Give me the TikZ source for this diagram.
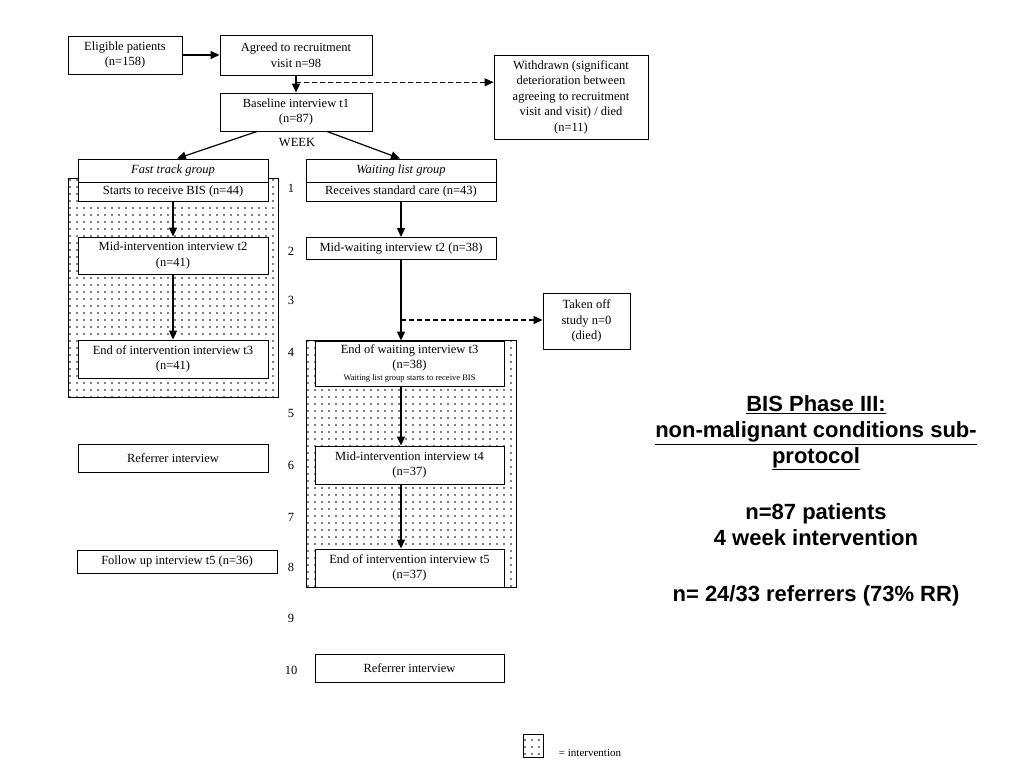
\documentclass[tikz,border=0pt]{standalone}
\usepackage{fontspec}
\setmainfont{Liberation Serif}
\newfontfamily\titlefont{Liberation Sans}
\usepackage{tikz}
\usetikzlibrary{arrows.meta}
\usetikzlibrary{patterns.meta}
\usetikzlibrary{calc}
\tikzstyle{etape}=[rectangle,draw,fill=white,align=center,inner sep=0pt,
        line width=0.9pt,font=\fontsize{12.5}{15.5}\selectfont]
\tikzstyle{zone}=[rectangle,draw,line width=0.9pt,
        pattern={Dots[distance=7pt,radius=0.9pt]},pattern color=black]
\tikzstyle{semaine}=[font=\fontsize{12.5}{15}\selectfont]
\tikzstyle{suite}=[-{Triangle[length=9pt,width=8pt]},line width=1.2pt]
\tikzstyle{retrait}=[-{Triangle[length=9pt,width=8pt]},line width=1.2pt,dash pattern=on 5pt off 3pt]

\begin{document}
\begin{tikzpicture}[x=1pt,y=-1pt]
\useasboundingbox (0,0) rectangle (1024,768);
%zones d'intervention
\node[zone,minimum width=210,minimum height=219] (zf) at (173,287.5) {};
\node[zone,minimum width=210,minimum height=247] (zw) at (411,463.5) {};
%boites
\node[etape,minimum width=114,minimum height=38] (elig) at (125,55) {Eligible patients\\(n=158)};
\node[etape,minimum width=152,minimum height=40] (agreed) at (296,55) {Agreed to recruitment\\visit n=98};
\node[etape,minimum width=152,minimum height=38] (base) at (296,112) {Baseline interview t1\\(n=87)};
\node[etape,minimum width=154,minimum height=84] (wd) at (571,97) {Withdrawn (significant\\deterioration between\\agreeing to recruitment\\visit and visit) / died\\(n=11)};
\node[semaine] (week) at (297,143) {WEEK};
\node[etape,minimum width=190,minimum height=23] (fast) at (173,170.5) {\itshape Fast track group};
\node[etape,minimum width=190,minimum height=19] (fbis) at (173,191.5) {Starts to receive BIS (n=44)};
\node[etape,minimum width=190,minimum height=23] (wait) at (401,170.5) {\itshape Waiting list group};
\node[etape,minimum width=190,minimum height=19] (wstd) at (401,191.5) {Receives standard care (n=43)};
\node[etape,minimum width=190,minimum height=37] (fmid) at (173,255.5) {Mid-intervention interview t2\\(n=41)};
\node[etape,minimum width=190,minimum height=22] (wmid) at (401,248.5) {Mid-waiting interview t2 (n=38)};
\node[etape,minimum width=190,minimum height=38] (fend) at (173,359) {End of intervention interview t3\\(n=41)};
\node[etape,minimum width=87,minimum height=56] (toff) at (586.5,321) {Taken off\\study n=0\\(died)};
\node[etape,minimum width=189,minimum height=45] (wend) at (409.5,363.5) {End of waiting interview t3\\(n=38)\\[-4pt]{\fontsize{8.5}{9}\selectfont Waiting list group starts to receive BIS}};
\node[etape,minimum width=189,minimum height=38] (wmidb) at (409.5,465) {Mid-intervention interview t4\\(n=37)};
\node[etape,minimum width=189,minimum height=38] (wendb) at (409.5,568) {End of intervention interview t5\\(n=37)};
\node[etape,minimum width=190,minimum height=28] (fref) at (173,458) {Referrer interview};
\node[etape,minimum width=200,minimum height=23] (ffol) at (177,561.5) {Follow up interview t5 (n=36)};
\node[etape,minimum width=189,minimum height=28] (wref) at (409.5,668) {Referrer interview};
%semaines
\foreach \n/\y in {1/188,2/251,3/300,4/352,5/413,6/465,7/517,8/567,9/618,10/670}
  \node[semaine] (s\n) at (291,\y) {\n};
%titre
\node[align=center,font=\titlefont\bfseries\fontsize{22}{26}\selectfont] (titre) at (816,501)
  {\underline{BIS Phase III:}\\\underline{non-malignant conditions sub-}\\\underline{protocol}\\[30pt]
   n=87 patients\\4 week intervention\\[30pt]n= 24/33 referrers (73\% RR)};
%legende
\node[zone,minimum width=20,minimum height=23] (leg) at (533,745.5) {};
\node[font=\fontsize{11}{13}\selectfont] (legtxt) at (590,753) {= intervention};
%fleches
\draw[suite] (elig) -- (agreed);
\draw[suite] (agreed) -- (base);
\coordinate (c1) at ($(agreed.south)!0.4!(base.north)$);
\draw[retrait] (c1) -- (c1 -| wd.west);
\draw[suite] ([xshift=-39pt]base.south) -- ([xshift=4pt]fast.north);
\draw[suite] ([xshift=31pt]base.south) -- ([xshift=-1pt]wait.north);
\draw[suite] (fbis) -- (fmid);
\draw[suite] (fmid) -- (fend);
\draw[suite] (wstd) -- (wmid);
\draw[suite] (wmid) -- (wmid |- wend.north);
\coordinate (c2) at (401,320);
\draw[retrait] (c2) -- (c2 -| toff.west);
\draw[suite] (wmid |- wend.south) -- (wmid |- wmidb.north);
\draw[suite] (wmid |- wmidb.south) -- (wmid |- wendb.north);
\end{tikzpicture}
\end{document}
